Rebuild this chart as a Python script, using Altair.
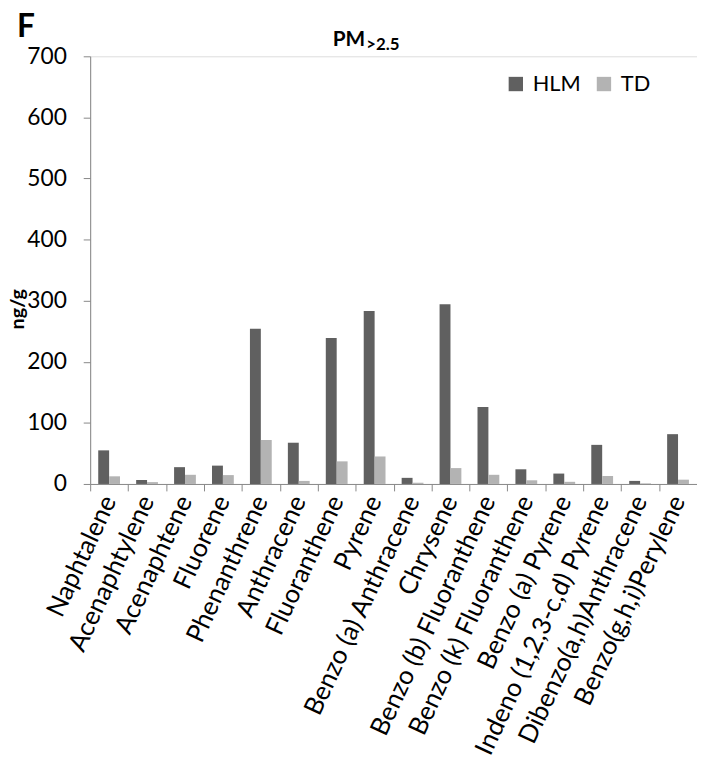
import altair as alt
import pandas as pd

compounds = [
    "Naphtalene", "Acenaphtylene", "Acenaphtene", "Fluorene", "Phenanthrene",
    "Anthracene", "Fluoranthene", "Pyrene", "Benzo (a) Anthracene", "Chrysene",
    "Benzo (b) Fluoranthene", "Benzo (k) Fluoranthene", "Benzo (a) Pyrene",
    "Indeno (1,2,3-c,d) Pyrene", "Dibenzo(a,h)Anthracene", "Benzo(g,h,i)Perylene",
]
hlm = [55, 6.5, 27.5, 30, 254, 67.5, 239, 283, 10, 294, 126, 24, 17, 64, 5, 81.5]
td = [12.5, 3, 15, 14.5, 72, 5, 37, 45, 2, 26, 15, 6, 3.5, 13, 1, 7]
series = ["HLM", "TD"]
colors = ["#606060", "#b3b3b3"]

rows = []
for c, a, b in zip(compounds, hlm, td):
    rows.append({"compound": c, "series": "HLM", "value": a})
    rows.append({"compound": c, "series": "TD", "value": b})
df = pd.DataFrame(rows)

FONT = "Lato"

bars = alt.Chart(df).mark_bar().encode(
    x=alt.X("compound:N", sort=compounds,
            scale=alt.Scale(paddingInner=0, paddingOuter=0),
            axis=alt.Axis(title=None, labelAngle=295, labelAlign="right",
                          labelBaseline="middle", labelFontSize=26, labelFont=FONT,
                          labelColor="black", labelPadding=6, tickBand="extent",
                          tickSize=7, tickColor="#888888", domainColor="#888888",
                          labelLimit=500, labelOverlap=False)),
    xOffset=alt.XOffset("series:N", sort=series,
                        scale=alt.Scale(paddingOuter=0.74, paddingInner=0)),
    y=alt.Y("value:Q", scale=alt.Scale(domain=[0, 700], nice=False),
            axis=alt.Axis(values=[0, 100, 200, 300, 400, 500, 600, 700],
                          title="ng/g", titleFontSize=20, titleFont=FONT,
                          titleFontWeight="bold", titleColor="black",
                          titleAngle=270, titleX=-73, titleY=255,
                          titleAlign="center", titleBaseline="middle",
                          labelFontSize=23, labelFont=FONT, labelColor="black",
                          labelPadding=17, tickSize=7, tickColor="#888888",
                          domainColor="#888888", grid=False)),
    color=alt.Color("series:N", sort=series,
                    scale=alt.Scale(domain=series, range=colors),
                    legend=alt.Legend(title=None, orient="none", direction="horizontal",
                                      legendX=419, legendY=17, symbolType="square",
                                      symbolSize=210, symbolStrokeWidth=0,
                                      labelFontSize=22, labelFont=FONT,
                                      labelColor="black", columnPadding=12,
                                      labelOffset=6)),
)

one = pd.DataFrame({"t": [""]})
f_label = alt.Chart(one).mark_text(text="F", fontSize=32, fontWeight="bold",
                                   font=FONT, align="left", baseline="alphabetic",
                                   color="black").encode(x=alt.value(-74), y=alt.value(-19))
pm_label = alt.Chart(one).mark_text(text="PM", fontSize=21, fontWeight="bold",
                                    font=FONT, align="left", baseline="alphabetic",
                                    color="black").encode(x=alt.value(245), y=alt.value(-10))
sub_label = alt.Chart(one).mark_text(text=">2.5", fontSize=17, fontWeight="bold",
                                     font=FONT, align="left", baseline="alphabetic",
                                     color="black").encode(x=alt.value(279), y=alt.value(-6))

chart = alt.layer(bars, f_label, pm_label, sub_label).properties(
    width=613, height=432,
    autosize=alt.AutoSizeParams(type="none"),
    padding={"left": 83, "top": 45, "right": 0, "bottom": 270},
).configure_view(stroke=None).configure(background="white")

chart.save("out.html", embed_options={"renderer": "svg", "actions": False})
